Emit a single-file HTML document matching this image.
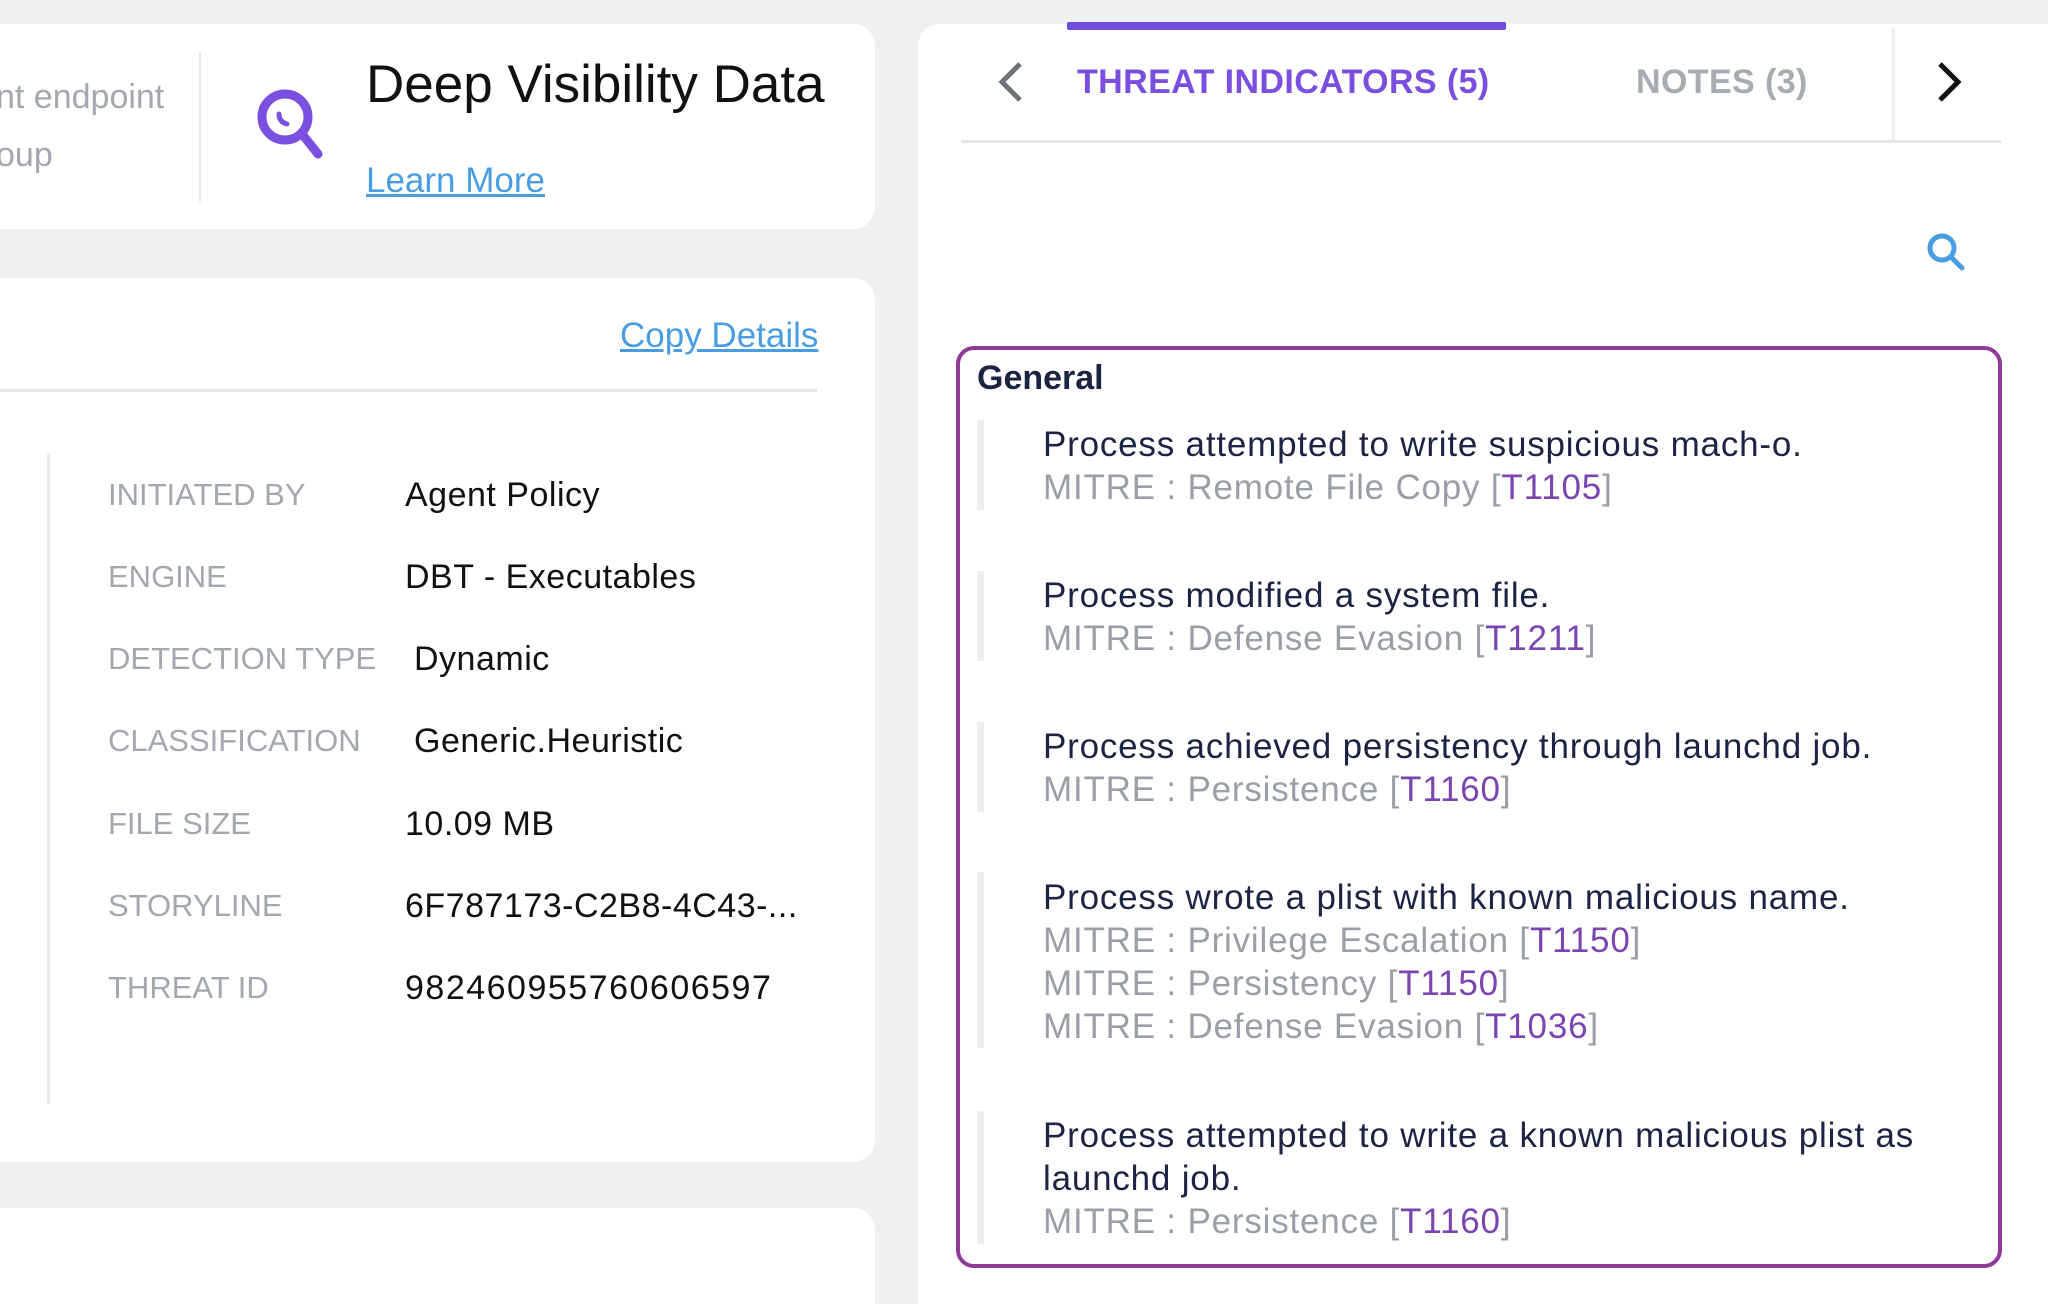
<!DOCTYPE html>
<html style="overflow:hidden;width:2048px;height:1304px"><head><meta charset="utf-8"><style>
*{margin:0;padding:0;box-sizing:border-box}
body{width:2048px;height:1304px;background:#eef0f2;position:relative;overflow:hidden;font-family:"Liberation Sans",sans-serif}
.card{position:absolute;background:#fff;border-radius:22px}
.t{position:absolute;white-space:nowrap;line-height:1}
.lab{color:#a3a7ae;font-size:31px;left:108px}
.val{color:#111;font-size:34px;letter-spacing:0.5px}
.item{position:absolute;left:1043px;font-size:35px;letter-spacing:0.8px;line-height:43px;color:#1b2443;white-space:nowrap}
.item .m{color:#9a9ea6}
.item .c{color:#7a45b0}
.bar{position:absolute;left:977px;width:7px;background:#eceef0}
</style></head><body>
<div class="card" style="left:-30px;top:24px;width:905px;height:205px"></div>
<div class="card" style="left:-30px;top:278px;width:905px;height:884px"></div>
<div class="card" style="left:-30px;top:1208px;width:905px;height:96px;border-radius:22px 22px 0 0"></div>
<div class="card" style="left:918px;top:24px;width:1130px;height:1280px;border-radius:22px 0 0 0"></div>

<div class="t" style="left:-4px;top:80px;font-size:34px;color:#a3a7ae">nt endpoint</div>
<div class="t" style="left:-4px;top:138px;font-size:34px;color:#a3a7ae">oup</div>
<div style="position:absolute;left:199px;top:52px;width:2px;height:150px;background:#e6e8eb"></div>
<svg style="position:absolute;left:252px;top:84px" width="80" height="80" viewBox="0 0 80 80">
<circle cx="33" cy="33" r="23" fill="none" stroke="#7b4fe0" stroke-width="9"/>
<line x1="50" y1="50" x2="66" y2="70" stroke="#7b4fe0" stroke-width="9" stroke-linecap="round"/>
<path d="M27 30 q0 8 8 10" fill="none" stroke="#7b4fe0" stroke-width="5" stroke-linecap="round"/></svg>
<div class="t" style="left:366px;top:58px;font-size:53px;color:#111">Deep Visibility Data</div>
<div class="t" style="left:366px;top:163px;font-size:35px;color:#4a9de0;text-decoration:underline">Learn More</div>

<div class="t" style="left:620px;top:318px;font-size:35px;color:#4a9de0;text-decoration:underline">Copy Details</div>
<div style="position:absolute;left:0;top:389px;width:817px;height:3px;background:#e4e6e9"></div>
<div style="position:absolute;left:47px;top:453px;width:3px;height:651px;background:#e8eaed"></div>
<div class="t lab" style="top:479px">INITIATED BY</div><div class="t val" style="left:405px;top:478px">Agent Policy</div>
<div class="t lab" style="top:561px">ENGINE</div><div class="t val" style="left:405px;top:560px">DBT - Executables</div>
<div class="t lab" style="top:643px">DETECTION TYPE</div><div class="t val" style="left:414px;top:642px">Dynamic</div>
<div class="t lab" style="top:725px">CLASSIFICATION</div><div class="t val" style="left:414px;top:724px">Generic.Heuristic</div>
<div class="t lab" style="top:808px">FILE SIZE</div><div class="t val" style="left:405px;top:807px">10.09 MB</div>
<div class="t lab" style="top:890px">STORYLINE</div><div class="t val" style="left:405px;top:889px">6F787173-C2B8-4C43-...</div>
<div class="t lab" style="top:972px">THREAT ID</div><div class="t val" style="left:405px;top:971px;letter-spacing:1.5px">982460955760606597</div>

<div style="position:absolute;left:1067px;top:22px;width:439px;height:8px;background:#6f4de0;border-radius:2px"></div>
<svg style="position:absolute;left:996px;top:60px" width="30" height="44" viewBox="0 0 30 44"><polyline points="24,4 6,22 24,40" fill="none" stroke="#6d7178" stroke-width="5"/></svg>
<div class="t" style="left:1077px;top:65px;font-size:34px;font-weight:bold;color:#7a4fe0;letter-spacing:0.4px">THREAT INDICATORS (5)</div>
<div class="t" style="left:1636px;top:65px;font-size:34px;font-weight:bold;color:#a7abb2;letter-spacing:0.4px">NOTES (3)</div>
<div style="position:absolute;left:1892px;top:28px;width:4px;height:112px;background:linear-gradient(to right,#e3e5e8,#fff)"></div>
<svg style="position:absolute;left:1934px;top:60px" width="30" height="44" viewBox="0 0 30 44"><polyline points="6,4 24,22 6,40" fill="none" stroke="#111" stroke-width="5"/></svg>
<div style="position:absolute;left:961px;top:140px;width:1040px;height:3px;background:#e4e6e9"></div>
<svg style="position:absolute;left:1924px;top:230px" width="44" height="44" viewBox="0 0 44 44"><circle cx="18" cy="18" r="12" fill="none" stroke="#4a9de0" stroke-width="5"/><line x1="27" y1="27" x2="38" y2="38" stroke="#4a9de0" stroke-width="5" stroke-linecap="round"/></svg>

<div style="position:absolute;left:956px;top:346px;width:1046px;height:922px;border:4px solid #8e3a96;border-radius:18px"></div>
<div class="t" style="left:977px;top:361px;font-size:34px;font-weight:bold;color:#1b2443">General</div>

<div class="bar" style="top:420px;height:90px"></div>
<div class="item" style="top:423px">Process attempted to write suspicious mach-o.<br><span class="m">MITRE : Remote File Copy [<span class="c">T1105</span>]</span></div>
<div class="bar" style="top:571px;height:90px"></div>
<div class="item" style="top:574px">Process modified a system file.<br><span class="m">MITRE : Defense Evasion [<span class="c">T1211</span>]</span></div>
<div class="bar" style="top:722px;height:90px"></div>
<div class="item" style="top:725px">Process achieved persistency through launchd job.<br><span class="m">MITRE : Persistence [<span class="c">T1160</span>]</span></div>
<div class="bar" style="top:872px;height:176px"></div>
<div class="item" style="top:876px">Process wrote a plist with known malicious name.<br><span class="m">MITRE : Privilege Escalation [<span class="c">T1150</span>]<br>MITRE : Persistency [<span class="c">T1150</span>]<br>MITRE : Defense Evasion [<span class="c">T1036</span>]</span></div>
<div class="bar" style="top:1111px;height:133px"></div>
<div class="item" style="top:1114px">Process attempted to write a known malicious plist as<br>launchd job.<br><span class="m">MITRE : Persistence [<span class="c">T1160</span>]</span></div>
</body></html>
